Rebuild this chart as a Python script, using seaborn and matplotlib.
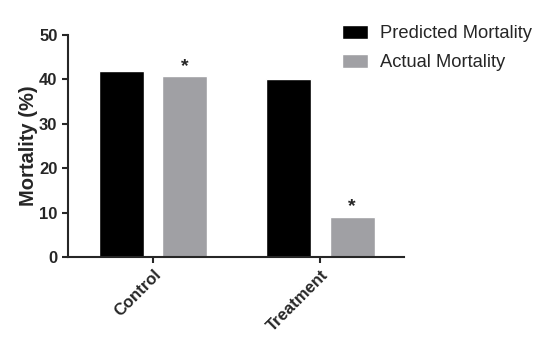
import numpy as np
import pandas as pd
import seaborn as sns
import matplotlib.pyplot as plt

groups = ["Control", "Treatment"]
predicted = [42, 40]
actual = [40.7, 9.1]
series = ["Predicted Mortality", "Actual Mortality"]

df = pd.DataFrame({
    "group": groups * 2,
    "value": predicted + actual,
    "series": [series[0]] * 2 + [series[1]] * 2,
})

sns.set_style("ticks")
plt.rcParams['font.family'] = ['Liberation Sans', 'DejaVu Sans']

fig = plt.figure(figsize=(5.43, 3.51), dpi=100)
ax = fig.add_axes([0.125, 0.268, 0.619, 0.632])

sns.barplot(data=df, x="group", y="value", hue="series",
            palette=["#000000", "#a0a0a4"], width=0.76, gap=0.29,
            saturation=1, ax=ax)

# significance stars over actual bars
for i, v in enumerate(actual):
    ax.text(i + 0.19, v + 0.4, "*", ha="center", va="bottom",
            fontsize=14, fontweight="bold")

ax.set_xlim(-0.51, 1.5)
ax.set_ylim(0, 50)
ax.set_yticks([0, 10, 20, 30, 40, 50])
ax.set_xlabel("")
ax.set_ylabel("Mortality (%)", fontsize=14.5, fontweight="bold", labelpad=1)
ax.tick_params(axis="both", width=1.5, length=4, labelsize=12)
for lab in ax.get_yticklabels():
    lab.set_fontweight("bold")
ax.set_xticks([0, 1])
ax.set_xticklabels(groups, rotation=45, ha="right", rotation_mode="anchor",
                   fontweight="bold", fontsize=12)
for s in ["left", "bottom"]:
    ax.spines[s].set_linewidth(1.5)
sns.despine(ax=ax)

ax.legend(loc="upper left", bbox_to_anchor=(0.630, 0.928),
          bbox_transform=fig.transFigure, frameon=False,
          fontsize=13.2, handlelength=1.42, handleheight=0.77,
          handletextpad=0.65, labelspacing=0.62,
          borderpad=0, borderaxespad=0)

fig.savefig("out.png", dpi=100)
